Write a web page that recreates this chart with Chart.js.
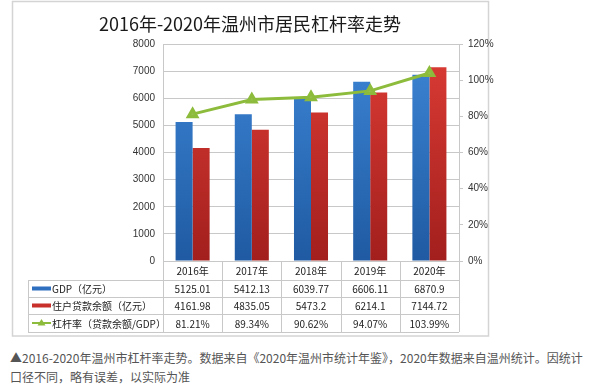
<!DOCTYPE html>
<html>
<head>
<meta charset="utf-8">
<script src="https://cdn.jsdelivr.net/npm/chart.js@4.4.0/dist/chart.umd.min.js"></script>
<style>
  body { margin: 0; background: #fff; }
  #wrap { position: relative; width: 593px; height: 392px; }
  #chart { position: absolute; left: 0; top: 0; }
  #note { position: absolute; left: 10px; top: 348px; width: 583px; white-space: nowrap;
          font: 12px "Noto Sans CJK SC", sans-serif; color: #555; line-height: 19px; }
</style>
</head>
<body>
<div id="wrap">
  <canvas id="chart" width="500" height="340"></canvas>
  <div id="note">▲2016-2020年温州市杠杆率走势。数据来自《2020年温州市统计年鉴》，2020年数据来自温州统计。因统计<br>口径不同，略有误差，以实际为准</div>
</div>
<script>
// 데이터
const years = ['2016年', '2017年', '2018年', '2019年', '2020年'];
const gdp = [5125.01, 5412.13, 6039.77, 6606.11, 6870.9];
const loans = [4161.98, 4835.05, 5473.2, 6214.1, 7144.72];
const leverage = [81.21, 89.34, 90.62, 94.07, 103.99];
const rowNames = ['GDP（亿元）', '住户贷款余额（亿元）', '杠杆率（贷款余额/GDP）'];

const tickFont = { family: 'Liberation Sans', size: 10 };
const cellFont = '10px "Noto Sans CJK SC"';
const lineCol = '#8dbb3b';
const gridCol = '#c8c8c8';

function grad(top, bottom) {
    return function (ctx) {
        const a = ctx.chart.chartArea;
        if (!a) return top;
        const g = ctx.chart.ctx.createLinearGradient(0, a.top, 0, a.bottom);
        g.addColorStop(0, top);
        g.addColorStop(1, bottom);
        return g;
    };
}

// 바깥 테두리
const framePlugin = {
    id: 'frame',
    beforeDraw(chart) {
        const c = chart.ctx;
        c.save();
        c.fillStyle = '#fff';
        c.fillRect(0, 0, chart.width, chart.height);
        c.strokeStyle = '#d4d4d4';
        c.lineWidth = 1.5;
        c.strokeRect(12.5, 1.5, 476, 334.5);
        c.restore();
    }
};

// 아래 데이터 표
const tablePlugin = {
    id: 'table',
    afterDraw(chart) {
        const c = chart.ctx;
        const xs = chart.scales.x;
        const area = chart.chartArea;
        const half = (xs.getPixelForValue(1) - xs.getPixelForValue(0)) / 2;
        const rowLines = [280, 297, 314, 332];
        const left = 28;
        c.save();
        c.strokeStyle = gridCol;
        c.lineWidth = 1;
        c.beginPath();
        for (let i = 0; i <= years.length; i++) {
            const x = Math.round(i < years.length ? xs.getPixelForValue(i) - half : xs.getPixelForValue(i - 1) + half) + 0.5;
            c.moveTo(x, area.bottom);
            c.lineTo(x, rowLines[3]);
        }
        rowLines.forEach(y => {
            c.moveTo(left, y + 0.5);
            c.lineTo(area.right, y + 0.5);
        });
        c.moveTo(left + 0.5, rowLines[0]);
        c.lineTo(left + 0.5, rowLines[3]);
        c.stroke();

        const rows = [
            gdp.map(v => String(v)),
            loans.map(v => String(v)),
            leverage.map(v => v + '%')
        ];
        c.font = cellFont;
        c.fillStyle = '#222';
        c.textBaseline = 'middle';
        for (let r = 0; r < 3; r++) {
            const cy = (rowLines[r] + rowLines[r + 1]) / 2 + 1;
            c.textAlign = 'center';
            rows[r].forEach((t, i) => c.fillText(t, xs.getPixelForValue(i), cy));
            c.textAlign = 'left';
            c.fillText(rowNames[r], 52, cy);
        }
        // 범례 표시
        let cy = (rowLines[0] + rowLines[1]) / 2;
        c.fillStyle = '#2f6fbf';
        c.fillRect(32, cy - 2, 19, 4);
        cy = (rowLines[1] + rowLines[2]) / 2;
        c.fillStyle = '#c8302b';
        c.fillRect(32, cy - 2, 19, 4);
        cy = (rowLines[2] + rowLines[3]) / 2;
        c.strokeStyle = lineCol;
        c.lineWidth = 2;
        c.beginPath();
        c.moveTo(32, cy);
        c.lineTo(51, cy);
        c.stroke();
        c.fillStyle = lineCol;
        c.beginPath();
        c.moveTo(41.5, cy - 4);
        c.lineTo(45.5, cy + 2.5);
        c.lineTo(37.5, cy + 2.5);
        c.closePath();
        c.fill();
        c.restore();
    }
};

new Chart(document.getElementById('chart').getContext('2d'), {
    type: 'bar',
    data: {
        labels: years,
        datasets: [{
            type: 'line',
            label: '杠杆率（贷款余额/GDP）',
            data: leverage,
            yAxisID: 'y1',
            borderColor: lineCol,
            backgroundColor: lineCol,
            borderWidth: 3,
            pointStyle: 'triangle',
            pointRadius: 5,
            pointBackgroundColor: '#93bf4a',
            pointBorderColor: lineCol,
            order: 0
        }, {
            label: 'GDP（亿元）',
            data: gdp,
            yAxisID: 'y',
            backgroundColor: grad('#3d86d6', '#1f5aa2'),
            barPercentage: 1,
            categoryPercentage: 0.575,
            order: 1
        }, {
            label: '住户贷款余额（亿元）',
            data: loans,
            yAxisID: 'y',
            backgroundColor: grad('#dd3c35', '#a21f1d'),
            barPercentage: 1,
            categoryPercentage: 0.575,
            order: 1
        }]
    },
    options: {
        responsive: false,
        animation: false,
        devicePixelRatio: 1,
        layout: { padding: 0 },
        plugins: {
            legend: { display: false },
            tooltip: { enabled: false },
            title: {
                display: true,
                text: '2016年-2020年温州市居民杠杆率走势',
                font: { family: 'Noto Sans CJK SC', size: 18, weight: 'normal' },
                color: '#1a1a1a',
                padding: { top: 13, bottom: 9.4 }
            }
        },
        scales: {
            x: {
                grid: { display: false, drawTicks: false },
                border: { display: false },
                ticks: { font: { family: 'Noto Sans CJK SC', size: 10 }, color: '#222', padding: 4 },
                afterFit: s => { s.height = 79; }
            },
            y: {
                position: 'left',
                min: 0,
                max: 8000,
                ticks: { stepSize: 1000, font: tickFont, color: '#333', padding: 8, callback: v => String(v) },
                grid: { color: gridCol, drawTicks: false },
                border: { color: gridCol },
                afterFit: s => { s.width = 163; }
            },
            y1: {
                position: 'right',
                min: 0,
                max: 120,
                ticks: { stepSize: 20, font: tickFont, color: '#333', padding: 5, callback: v => v + '%' },
                grid: { drawOnChartArea: false, tickLength: 4, color: gridCol },
                border: { color: gridCol },
                afterFit: s => { s.width = 41; }
            }
        }
    },
    plugins: [framePlugin, tablePlugin]
});
</script>
</body>
</html>
